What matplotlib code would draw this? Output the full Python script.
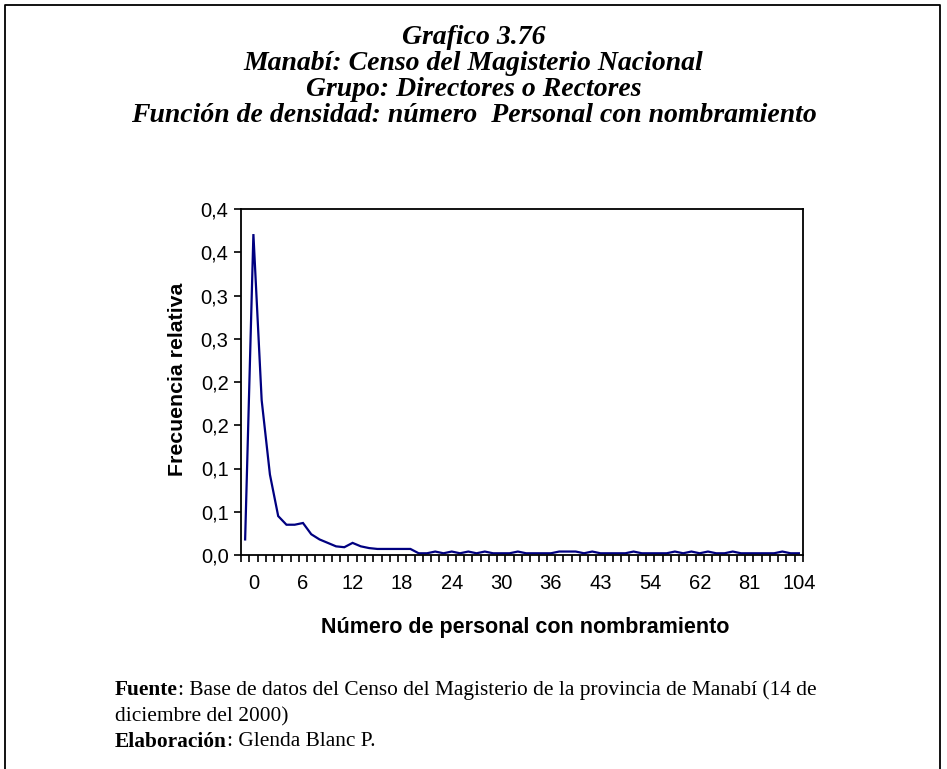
import matplotlib
matplotlib.use("Agg")
import matplotlib.pyplot as plt
from matplotlib.lines import Line2D

# ---------------- data ----------------
categories = ["", "0", "1", "2", "3", "4", "5", "6", "7", "8", "9", "10", "11", "12",
              "13", "14", "15", "16", "17", "18", "19", "20", "21", "22", "23", "24",
              "25", "26", "27", "28", "29", "30", "31", "32", "33", "34", "35", "36",
              "37", "38", "39", "40", "42", "43", "44", "45", "47", "50", "52", "54",
              "55", "56", "58", "59", "60", "62", "64", "66", "70", "72", "77", "81",
              "85", "88", "92", "96", "100", "104"]
freq = [0.018, 0.371, 0.179, 0.093, 0.045, 0.035, 0.035, 0.037, 0.024, 0.018,
        0.014, 0.010, 0.009, 0.014, 0.010, 0.008, 0.007, 0.007, 0.007, 0.007,
        0.007, 0.002, 0.002, 0.004, 0.002, 0.004, 0.002, 0.004, 0.002, 0.004,
        0.002, 0.002, 0.002, 0.004, 0.002, 0.002, 0.002, 0.002, 0.004, 0.004,
        0.004, 0.002, 0.004, 0.002, 0.002, 0.002, 0.002, 0.004, 0.002, 0.002,
        0.002, 0.002, 0.004, 0.002, 0.004, 0.002, 0.004, 0.002, 0.002, 0.004,
        0.002, 0.002, 0.002, 0.002, 0.002, 0.004, 0.002, 0.002]
ytick_values = [0.0, 0.05, 0.10, 0.15, 0.20, 0.25, 0.30, 0.35, 0.40]
ytick_labels = ["0,0", "0,1", "0,1", "0,2", "0,2", "0,3", "0,3", "0,4", "0,4"]
label_every = 6
label_start = 1

title_lines = ["Grafico 3.76",
               "Manabí: Censo del Magisterio Nacional",
               "Grupo: Directores o Rectores",
               "Función de densidad: número  Personal con nombramiento"]
xlabel = "Número de personal con nombramiento"
ylabel = "Frecuencia relativa"

# ---------------- figure ----------------
W, H = 947, 769
fig = plt.figure(figsize=(W / 100, H / 100), dpi=100)
fig.patch.set_facecolor("white")

def fx(px):
    return px / W

def fy(py):
    return 1 - py / H

# outer frame (left, top, right)
frame = Line2D([fx(5), fx(5), fx(940), fx(940)], [fy(780), fy(5), fy(5), fy(780)],
               transform=fig.transFigure, color="black", lw=1.3)
fig.add_artist(frame)

serif = "Liberation Serif"
sans = "Liberation Sans"

title_y = [37, 63, 89, 116]
for t, y in zip(title_lines, title_y):
    fig.text(0.5, fy(y), t, ha="center", va="center", family=serif,
             fontsize=20, fontweight="bold", fontstyle="italic")

ax = fig.add_axes([fx(241), fy(555), fx(803) - fx(241), fy(209) - fy(555)])
x = list(range(len(categories)))
ax.plot(x, freq, color="#000080", lw=1.6, solid_joinstyle="miter")

ax.set_xlim(-0.5, len(categories) - 0.5)
ax.set_ylim(0, 0.40)

# category boundary tick marks
ax.set_xticks([i - 0.5 for i in range(len(categories) + 1)])
ax.set_xticklabels([])
ax.tick_params(axis="x", which="major", direction="out", length=5, width=1.2)
# labels at category centres
lab_idx = list(range(label_start, len(categories), label_every))
ax.set_xticks(lab_idx, minor=True)
ax.set_xticklabels([categories[i] for i in lab_idx], minor=True,
                   family=sans, fontsize=14.5)
ax.tick_params(axis="x", which="minor", length=0, pad=14)

ax.set_yticks(ytick_values)
ax.set_yticklabels(ytick_labels, family=sans, fontsize=14.5)
ax.tick_params(axis="y", direction="out", length=5, width=1.2, pad=4)

for s in ax.spines.values():
    s.set_linewidth(1.3)
    s.set_color("black")

fig.text(fx(177), fy(379), ylabel, rotation=90, ha="center", va="center",
         family=sans, fontsize=15.3, fontweight="bold")
fig.text(fx(525), fy(627), xlabel, ha="center", va="center",
         family=sans, fontsize=15.5, fontweight="bold")

# footer
def mixed(xp, yp, bold, rest, size=15.4):
    t1 = fig.text(fx(xp), fy(yp), bold, ha="left", va="center", family=serif,
                  fontsize=size, fontweight="bold")
    ax.annotate(rest, xy=(1, 0.5), xycoords=t1, ha="left", va="center",
                family=serif, fontsize=size, annotation_clip=False)

mixed(115, 690, "Fuente", ": Base de datos del Censo del Magisterio de la provincia de Manabí (14 de")
fig.text(fx(115), fy(717), "diciembre del 2000)", ha="left", va="center",
         family=serif, fontsize=15.4)
mixed(115, 742, "Elaboración", ": Glenda Blanc P.")

fig.savefig("out.png", dpi=100)
